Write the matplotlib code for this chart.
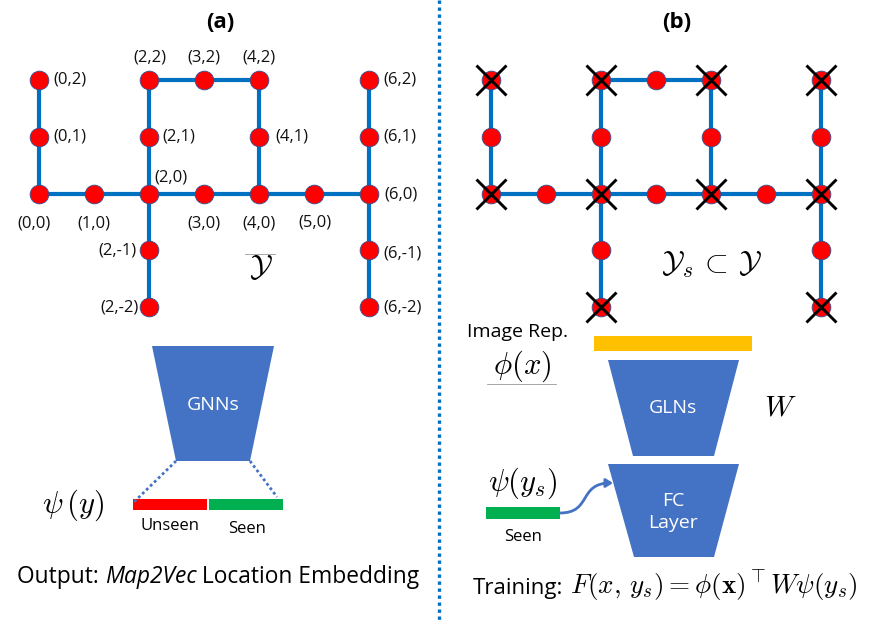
import matplotlib
matplotlib.use("Agg")
import matplotlib.pyplot as plt
from matplotlib.patches import Polygon, Rectangle, FancyArrowPatch
from matplotlib.path import Path
from matplotlib.lines import Line2D

plt.rcParams["font.family"] = ["Open Sans", "DejaVu Sans"]
plt.rcParams["mathtext.fontset"] = "cm"

# ---- graph data -------------------------------------------------------
nodes = [(0, 0), (1, 0), (2, 0), (3, 0), (4, 0), (5, 0), (6, 0),
         (0, 1), (0, 2), (2, 1), (2, 2), (3, 2), (4, 2), (4, 1),
         (2, -1), (2, -2), (6, 1), (6, 2), (6, -1), (6, -2)]
paths = [
    [(0, 2), (0, 1), (0, 0), (1, 0), (2, 0), (3, 0), (4, 0), (5, 0), (6, 0)],
    [(2, -2), (2, -1), (2, 0), (2, 1), (2, 2), (3, 2), (4, 2), (4, 1), (4, 0)],
    [(6, -2), (6, -1), (6, 0), (6, 1), (6, 2)],
]
crossed = [(0, 2), (0, 0), (2, 2), (4, 2), (6, 2), (2, 0), (4, 0), (6, 0),
           (2, -2), (6, -2)]

# label placement: (dx, dy) in pixels, horizontal alignment
label_pos = {
    (0, 2): (15, 0, "left"), (0, 1): (15, 0, "left"),
    (0, 0): (-5, -30, "center"), (1, 0): (0, -30, "center"),
    (2, 0): (6, 16, "left"), (3, 0): (0, -30, "center"),
    (4, 0): (0, -30, "center"), (5, 0): (1, -29, "center"),
    (6, 0): (15, -1, "left"), (2, 1): (14, 0, "left"),
    (2, 2): (1, 22, "center"), (3, 2): (0, 22, "center"),
    (4, 2): (0, 22, "center"), (4, 1): (16, 0, "left"),
    (6, 2): (14, 0, "left"), (6, 1): (14, 0, "left"),
    (6, -1): (14, -3, "left"), (6, -2): (14, 0, "left"),
    (2, -1): (-12, 0, "right"), (2, -2): (-10, 0, "right"),
}

EDGE_BLUE = "#0070C0"
BOX_BLUE = "#4472C4"

W_PX, H_PX = 872, 620
fig = plt.figure(figsize=(W_PX / 100, H_PX / 100), dpi=100)

# full-figure canvas in pixel units for the block diagram parts
cv = fig.add_axes([0, 0, 1, 1])
cv.set_xlim(0, W_PX)
cv.set_ylim(H_PX, 0)
cv.axis("off")

SX, SY = 55.1, 56.75  # pixels per grid unit


def graph_axes(x0_px):
    left = x0_px - 0.7 * SX
    top = 80 - 0.6 * SY
    bottom = 307 + 0.6 * SY
    ax = fig.add_axes([left / W_PX, (H_PX - bottom) / H_PX,
                       7.4 * SX / W_PX, (bottom - top) / H_PX])
    ax.set_xlim(-0.7, 6.7)
    ax.set_ylim(-2.6, 2.6)
    ax.axis("off")
    for p in paths:
        ax.plot([q[0] for q in p], [q[1] for q in p], color=EDGE_BLUE,
                lw=3.0, solid_capstyle="butt", zorder=1)
    ax.plot([n[0] for n in nodes], [n[1] for n in nodes], "o", ms=13.5,
            mfc="#FF0000", mec="#2F5597", mew=0.6, zorder=2)
    return ax


# ---- panel (a) ----
axa = graph_axes(38.5)
for n in nodes:
    dx, dy, ha = label_pos[n]
    axa.annotate(f"({n[0]},{n[1]})", xy=n, xytext=(dx, dy),
                 textcoords="offset pixels", ha=ha, va="center",
                 fontsize=12, color="#111111")

# ---- panel (b) ----
axb = graph_axes(490.7)
axb.plot([c[0] for c in crossed], [c[1] for c in crossed], "x", ms=21,
         mew=2.1, color="black", zorder=3)

# titles
cv.text(220, 23, "(a)", ha="center", va="center", fontsize=16,
        fontweight="bold")
cv.text(677, 23, "(b)", ha="center", va="center", fontsize=16,
        fontweight="bold")

# divider
cv.add_line(Line2D([439, 439], [0, 620], color=EDGE_BLUE, lw=2.4,
                   linestyle=(0, (1, 1.1))))

# set symbols
cv.plot([245, 275], [254, 254], color="#999999", lw=0.6)
cv.text(261, 268, r"$\mathcal{Y}$", ha="center", va="center", fontsize=22)
cv.text(712, 265, r"$\mathcal{Y}_s\,\subset\,\mathcal{Y}$", ha="center",
        va="center", fontsize=22)

# ---- lower (a): GNN encoder ----
cv.add_patch(Polygon([(152, 346), (274, 346), (250, 461), (176, 461)],
                     closed=True, fc=BOX_BLUE, ec="none"))
cv.text(213, 405, "GNNs", color="white", ha="center", va="center",
        fontsize=14)
cv.plot([176, 133], [461, 503], color=BOX_BLUE, lw=2, linestyle=(0, (1, 1)))
cv.plot([250, 277], [461, 497], color=BOX_BLUE, lw=2, linestyle=(0, (1, 1)))
cv.add_patch(Rectangle((133, 499), 74, 11, fc="#FF0000", ec="none"))
cv.add_patch(Rectangle((209, 499), 74, 11, fc="#00B050", ec="none"))
cv.text(170, 526, "Unseen", ha="center", va="center", fontsize=12)
cv.text(247, 529, "Seen", ha="center", va="center", fontsize=12)
cv.text(73, 505, r"$\psi\,(y)$", ha="center", va="center", fontsize=22)

# caption with an italic model name in the middle
t1 = cv.text(17, 583, "Output: ", ha="left", va="baseline", fontsize=16.4)
t2 = cv.annotate("Map2Vec", xy=(1, 583), xycoords=(t1, "data"),
                 ha="left", va="baseline", fontsize=16.4, fontstyle="italic")
cv.annotate(" Location Embedding", xy=(1, 583), xycoords=(t2, "data"),
            ha="left", va="baseline", fontsize=16.4)

# ---- lower (b): image branch ----
cv.text(467, 332, "Image Rep.", ha="left", va="center", fontsize=14)
cv.text(522, 366, r"$\phi(x)$", ha="center", va="center", fontsize=22)
cv.plot([487, 556], [384, 384], color="#999999", lw=0.6)
cv.add_patch(Rectangle((594, 336), 158, 15, fc="#FFC000", ec="none"))
cv.add_patch(Polygon([(608, 360), (739, 360), (714, 456), (633, 456)],
                     closed=True, fc=BOX_BLUE, ec="none"))
cv.text(673, 408, "GLNs", color="white", ha="center", va="center",
        fontsize=14)
cv.text(780, 408, r"$W$", ha="center", va="center", fontsize=21)
cv.add_patch(Polygon([(608, 464), (739, 464), (714, 557), (634, 557)],
                     closed=True, fc=BOX_BLUE, ec="none"))
cv.text(673, 512, "FC\nLayer", color="white", ha="center", va="center",
        fontsize=14, linespacing=1.25)
cv.text(523, 483, r"$\psi(y_s)$", ha="center", va="center", fontsize=22)
cv.add_patch(Rectangle((486, 507), 74, 12, fc="#00B050", ec="none"))
cv.text(523, 537, "Seen", ha="center", va="center", fontsize=12)
curve = Path([(560, 513), (592, 513), (578, 483), (613, 483)],
             [Path.MOVETO, Path.CURVE4, Path.CURVE4, Path.CURVE4])
cv.add_patch(FancyArrowPatch(path=curve,
                             arrowstyle="-|>,head_length=4,head_width=2.5",
                             color=BOX_BLUE, lw=2))
cv.text(473, 594, "Training:", ha="left", va="baseline", fontsize=16)
cv.text(570, 594,
        r"$F(x,\,y_s)=\phi(\mathbf{x})^{\top}W\psi(y_s)$",
        ha="left", va="baseline", fontsize=19.5)

fig.savefig("out.png", dpi=100)
